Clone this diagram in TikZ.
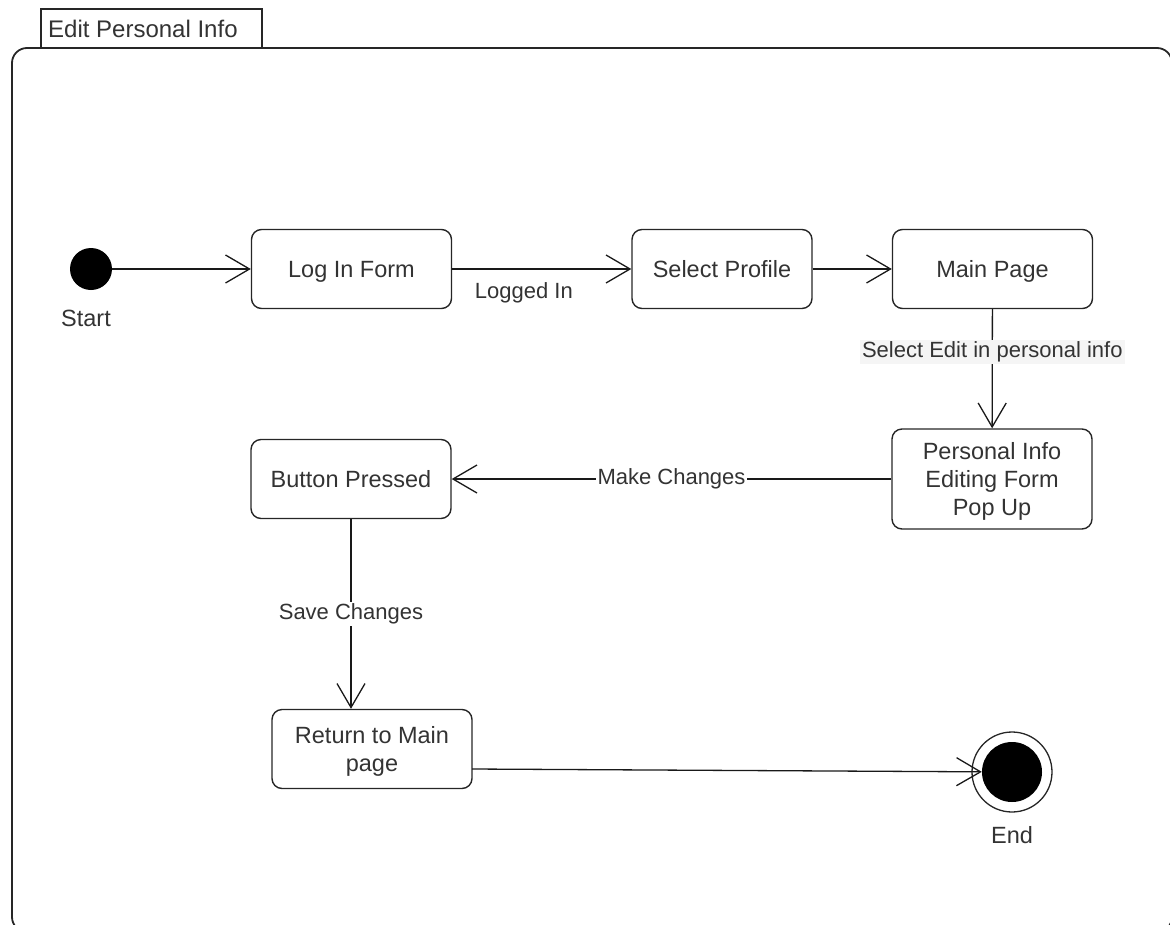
\documentclass[tikz,border=0pt]{standalone}
\usepackage{fontspec}
\setmainfont{Liberation Sans}
\usetikzlibrary{arrows.meta}
\newcommand\statefont{\fontsize{23.5}{28}\selectfont}
\newcommand\edgefont{\fontsize{22}{26}\selectfont}
\tikzset{
  state/.style={draw=black!85, line width=1.4pt, rounded corners=10pt,
    minimum width=200pt, minimum height=79pt, align=center,
    font=\statefont, text=black!80, inner sep=2pt, text depth=0pt},
  flow/.style={draw=black!90, line width=1.3pt,
    -{Straight Barb[length=24pt,width=28pt,line width=1.3pt]}},
  elabel/.style={font=\edgefont, text=black!80, inner sep=2pt},
  caption/.style={font=\statefont, text=black!80, inner sep=0pt},
}
\begin{document}
\begin{tikzpicture}[x=1pt,y=-1pt]
\useasboundingbox (0,0) rectangle (1170,924);
\begin{scope}
\clip (0,0) rectangle (1170,924);
% package frame and its name tab
\draw[line width=1.8pt, draw=black!85, rounded corners=15pt] (12,48) rectangle (1172,932);
\draw[line width=1.8pt, draw=black!85, fill=white] (41,9) rectangle (262,48);
\node[caption, anchor=west, font=\fontsize{24}{28}\selectfont] (title) at (48,29) {Edit Personal Info};

% states
\node[circle, fill=black, minimum size=42pt, inner sep=0pt] (start) at (91,269) {};
\node[caption] (startlbl) at (86,318) {Start};
\node[state] (login) at (351.5,269) {Log In Form};
\node[state, minimum width=180pt] (profile) at (722,269) {Select Profile};
\node[state] (mainpage) at (992.5,269) {Main Page};
\node[state, minimum height=100pt] (popup) at (992,479) {Personal Info\\Editing Form\\Pop Up};
\node[state] (button) at (351,479) {Button Pressed};
\node[state] (ret) at (372,749) {Return to Main\\page};
\node[circle, draw=black!85, line width=1.3pt, minimum size=80pt, inner sep=0pt] (endo) at (1012,772) {};
\node[circle, fill=black, minimum size=60pt, inner sep=0pt] (endi) at (1012,772) {};
\node[caption] (endlbl) at (1012,835) {End};

% transitions
\draw[flow] (start) -- (login);
\draw[flow] (login) -- (profile)
  node[elabel, pos=0.4, yshift=-24pt] {Logged In};
\draw[flow] (profile) -- (mainpage);
\draw[flow] (mainpage) -- (popup)
  node[elabel, pos=0.36, fill=black!4] {Select Edit in personal info};
\draw[flow] (popup) -- (button)
  node[elabel, pos=0.5, fill=white] {Make Changes};
\draw[flow] (button.south) -- (button.south |- ret.north)
  node[elabel, pos=0.5, fill=white] {Save Changes};
\coordinate (retout) at (472,769);
\draw[flow] (retout) -- (endi);
\end{scope}
\end{tikzpicture}
\end{document}
